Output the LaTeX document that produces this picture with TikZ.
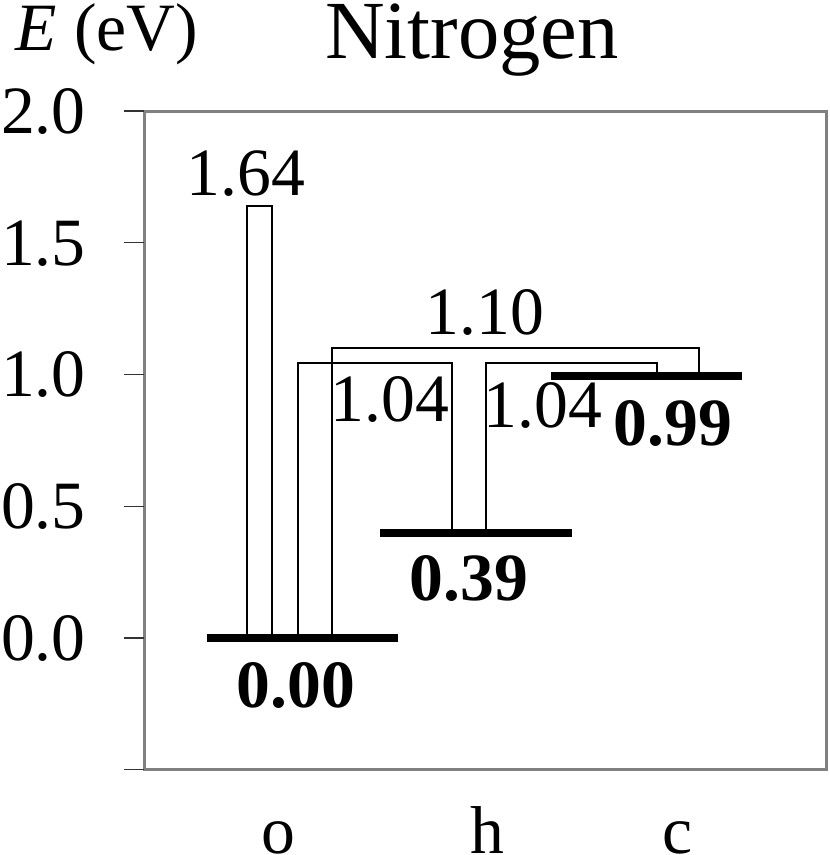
\documentclass[tikz,border=0pt]{standalone}
\usepackage{fontspec}
\setmainfont{Liberation Serif}
\usepackage{tikz}
\usetikzlibrary{positioning}

\tikzset{
  level/.style={line width=4.5pt},
  trans/.style={line width=1.1pt},
  frame/.style={draw=gray, line width=1.7pt},
  tick/.style={draw=black!80, line width=0.6pt},
  txt/.style={inner sep=0pt, anchor=base, font=\fontsize{38.5}{40}\selectfont},
  val/.style={txt, font=\fontsize{38.5}{40}\selectfont\bfseries},
}

\begin{document}
\begin{tikzpicture}[x=0.02cm, y=5.27cm]
    \useasboundingbox (0,-0.8235) rectangle (829,2.4213);
    % Ramme og akse
    \draw[frame] (144,-0.5) rectangle (826,2.0);
    \foreach \e in {-0.5,0,0.5,1.0,1.5,2.0} {
      \draw[tick] (124,\e) -- (144,\e);
    }
    \foreach \e/\t in {0/0.0,0.5/0.5,1.0/1.0,1.5/1.5,2.0/2.0} {
      \node[txt, anchor=base east] (tk\t) at (86,\e-0.085) {\t};
    }
    \node[txt] (elabel) at (107,2.231) {\textit{E} (eV)};
    \node[txt, font=\fontsize{47}{50}\selectfont] (title) at (472,2.201) {Nitrogen};
    % Niveauer
    \coordinate (oL) at (207,0);     \coordinate (oR) at (398,0);
    \coordinate (hL) at (380,0.40);  \coordinate (hR) at (572,0.40);
    \coordinate (cL) at (551,0.995); \coordinate (cR) at (742,0.995);
    \draw[level] (oL) -- (oR);
    \draw[level] (hL) -- (hR);
    \draw[level] (cL) -- (cR);
    \node[val] (oval) at (296,-0.262) {0.00};
    \node[val] (hval) at (469,0.144) {0.39};
    \node[val] (cval) at (673,0.732) {0.99};
    % Overgange
    \draw[trans] (247,0) |- (272,1.64) -- (272,0);
    \draw[trans] (298,0) |- (452,1.044) -- (452,0.40);
    \draw[trans] (332,0) |- (699,1.10) -- (699,0.995);
    \draw[trans] (486,0.40) |- (657,1.044) -- (657,0.995);
    \node[txt] (t164) at (246,1.681) {1.64};
    \node[txt] (t110) at (485,1.150) {1.10};
    \node[txt] (t104a) at (390,0.820) {1.04};
    \node[txt] (t104b) at (543,0.797) {1.04};
    % Konfigurationer
    \node[txt] (ko) at (278,-0.816) {o};
    \node[txt] (kh) at (487,-0.816) {h};
    \node[txt] (kc) at (677,-0.816) {c};
  \end{tikzpicture}
\end{document}
